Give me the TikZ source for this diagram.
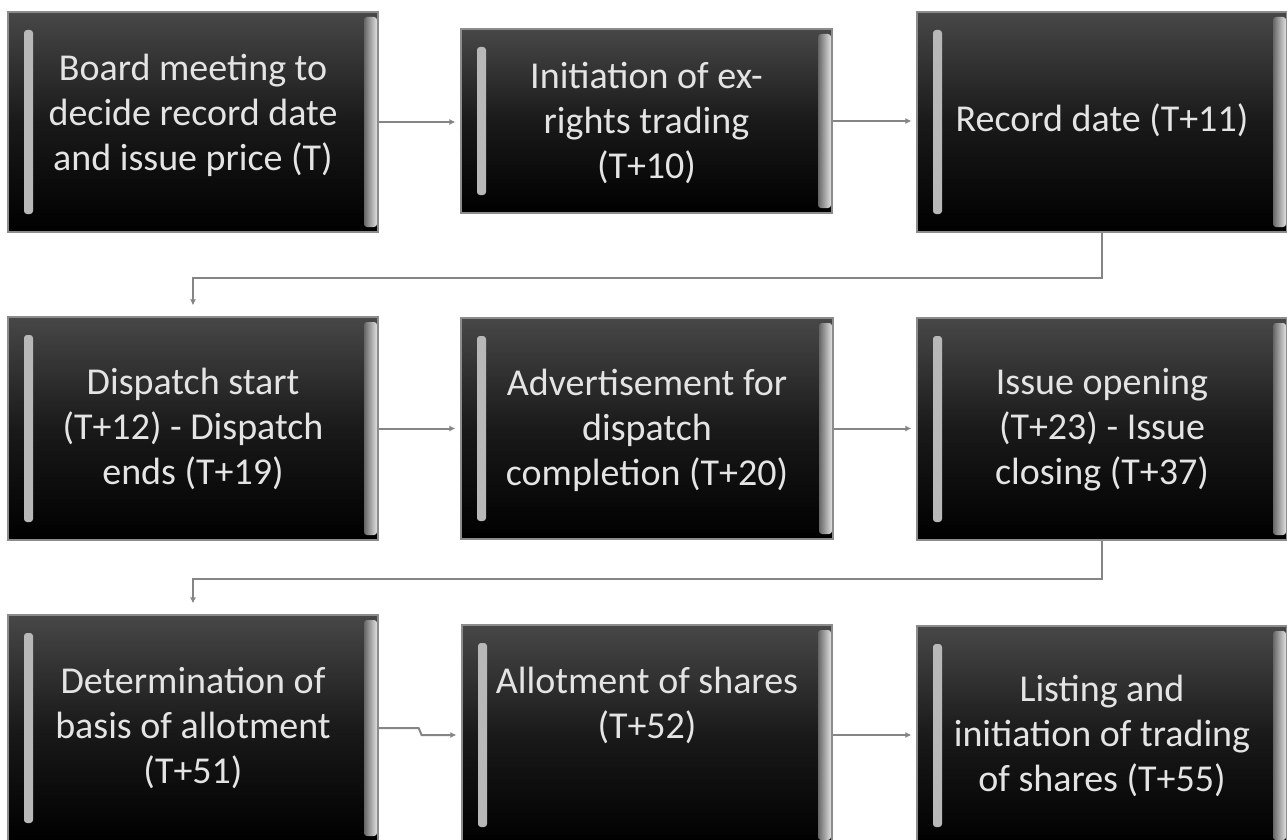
\documentclass[tikz,border=0pt]{standalone}
\usepackage{fontspec}
\setmainfont{Carlito}
\usetikzlibrary{arrows.meta,calc}
\definecolor{txt}{HTML}{E4E4E4}
\definecolor{conncol}{HTML}{858585}
\tikzset{
  flowbox/.style={rectangle, inner sep=0pt, draw=black!45, line width=1.2pt,
    top color=black!72, bottom color=black, middle color=black!90,
    path picture={
      \fill[black!28, rounded corners=3pt]
        ([xshift=16pt,yshift=-18pt]path picture bounding box.north west) rectangle
        ([xshift=25pt,yshift=18pt]path picture bounding box.south west);
      \shade[left color=black!60, right color=black!12, rounded corners=3pt]
        ([xshift=-14pt,yshift=-5pt]path picture bounding box.north east) rectangle
        ([xshift=-1pt,yshift=5pt]path picture bounding box.south east);
    }},
  lbl/.style={text=txt, font=\fontsize{38}{45}\selectfont, align=center, inner sep=0pt},
  conn/.style={draw=conncol, line width=2pt, -{Latex[length=6pt,width=6pt]}, shorten >=5pt},
  vconn/.style={conn, shorten >=11pt},
}
\begin{document}
\begin{tikzpicture}[x=1pt,y=-1pt]
\useasboundingbox (0,0) rectangle (1287,840);
\clip (0,0) rectangle (1287,840);
\fill[white] (0,0) rectangle (1287,840);

\node[flowbox, minimum width=370pt, minimum height=220pt,
  label={[lbl, yshift=7pt]center:{Board meeting to\\decide record date\\and issue price (T)}}] (b1) at (193,122) {};
\node[flowbox, minimum width=371pt, minimum height=184pt,
  label={[lbl, yshift=-2pt]center:{Initiation of ex-\\rights trading\\(T+10)}}] (b2) at (646.5,121) {};
\node[flowbox, minimum width=370pt, minimum height=220pt,
  label={[lbl, yshift=2pt]center:{Record date (T+11)}}] (b3) at (1102,122) {};

\node[flowbox, minimum width=370pt, minimum height=223pt,
  label={[lbl]center:{Dispatch start\\(T+12) - Dispatch\\ends (T+19)}}] (b4) at (193,428.5) {};
\node[flowbox, minimum width=372pt, minimum height=221pt,
  label={[lbl, yshift=-1.5pt]center:{Advertisement for\\dispatch\\completion (T+20)}}] (b5) at (647,428.5) {};
\node[flowbox, minimum width=370pt, minimum height=222pt,
  label={[lbl, yshift=-1pt]center:{Issue opening\\(T+23) - Issue\\closing (T+37)}}] (b6) at (1102,429) {};

\node[flowbox, minimum width=370pt, minimum height=226pt,
  label={[lbl]center:{Determination of\\basis of allotment\\(T+51)}}] (b7) at (193,728) {};
\node[flowbox, minimum width=370pt, minimum height=220pt,
  label={[lbl, yshift=29.5pt]center:{Allotment of shares\\(T+52)}}] (b8) at (647,735) {};
\node[flowbox, minimum width=370pt, minimum height=219pt,
  label={[lbl]center:{Listing and\\initiation of trading\\of shares (T+55)}}] (b9) at (1102,735.5) {};

\draw[conn] (b1.east) -- (b1.east -| b2.west);
\draw[conn] (b2.east) -- (b2.east -| b3.west);
\draw[vconn] (b3.south) -- ++(0,45) -| (b4.north);
\draw[conn] (b4.east) -- (b4.east -| b5.west);
\draw[conn] (b5.east) -- (b5.east -| b6.west);
\draw[vconn] (b6.south) -- ++(0,38) -| (b7.north);
\draw[conn] (b7.east) -- ++(40,0) -- ++(3,7) -- (b8.west);
\draw[conn] (b8.east) -- (b8.east -| b9.west);
\end{tikzpicture}
\end{document}
